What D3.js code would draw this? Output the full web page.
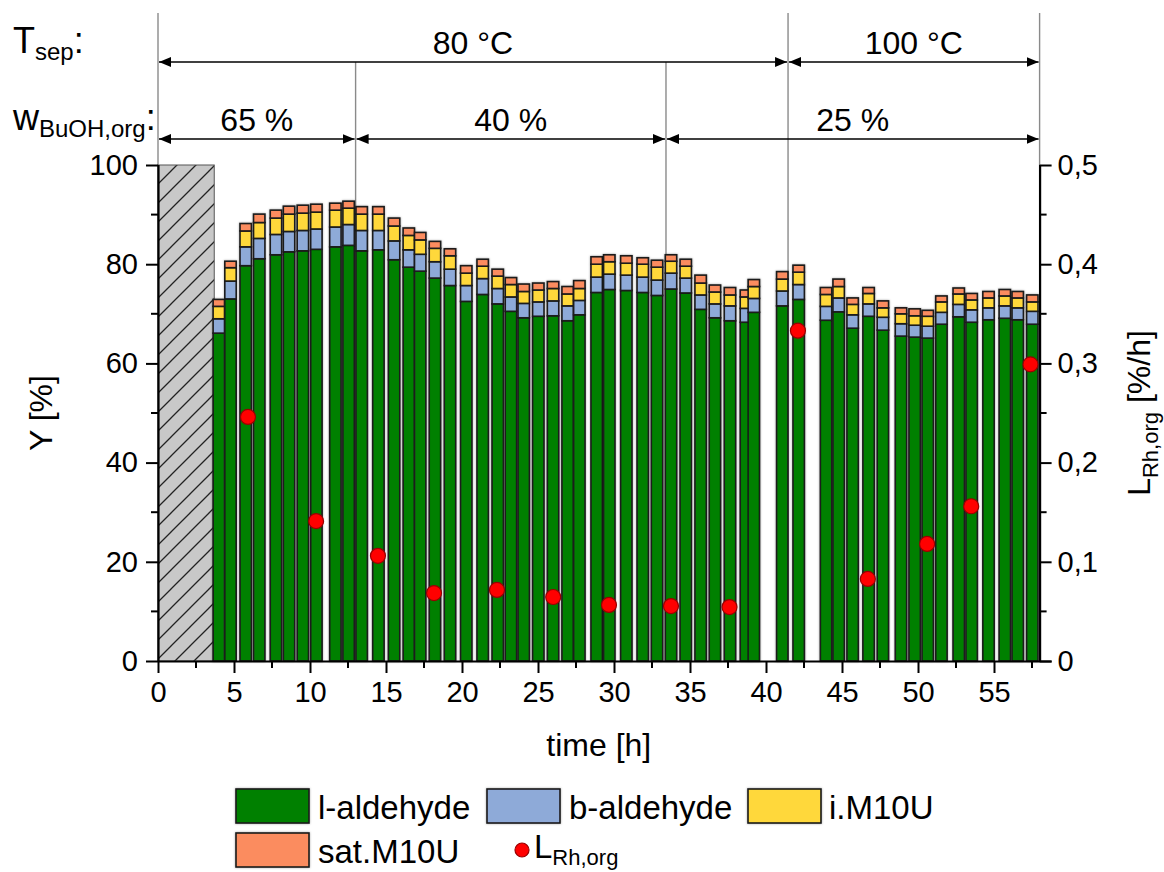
<!DOCTYPE html>
<html>
<head>
<meta charset="utf-8">
<script src="https://cdn.jsdelivr.net/npm/d3@7"></script>
<style>
  html, body { margin: 0; padding: 0; background: #fff; }
  svg { display: block; font-family: "Liberation Sans", Arial, sans-serif; }
</style>
</head>
<body>
<svg id="chart" width="1164" height="872"></svg>
<script>
// ---------------- DATA ----------------
const times = [4.0, 4.77, 5.77, 6.66, 7.76, 8.62, 9.53, 10.42, 11.67, 12.54, 13.4, 14.5, 15.53, 16.5, 17.25, 18.22, 19.21, 20.28, 21.36, 22.35, 23.22, 24.06, 25.02, 25.99, 26.95, 27.72, 28.86, 29.69, 30.81, 31.89, 32.83, 33.75, 34.72, 35.7, 36.64, 37.63, 38.68, 39.2, 41.07, 42.15, 43.95, 44.78, 45.7, 46.75, 47.69, 48.88, 49.78, 50.64, 51.54, 52.68, 53.53, 54.64, 55.71, 56.56, 57.52];
const lAldehyde = [66.1, 73.0, 79.7, 81.1, 81.9, 82.5, 82.7, 83.0, 83.5, 83.8, 82.7, 82.9, 80.9, 79.4, 78.6, 77.2, 75.7, 72.5, 73.9, 72.0, 70.5, 69.2, 69.5, 69.6, 68.6, 69.8, 74.3, 74.9, 74.7, 74.3, 73.7, 75.0, 74.2, 70.9, 69.2, 68.6, 68.3, 70.3, 71.6, 72.9, 68.7, 70.4, 67.1, 69.5, 66.7, 65.5, 65.3, 65.1, 67.9, 69.4, 68.3, 68.8, 69.1, 68.8, 67.9];
const bAldehyde = [2.9, 3.6, 3.8, 4.1, 4.1, 4.1, 4.1, 4.1, 4.0, 4.2, 4.1, 3.9, 3.8, 3.5, 3.4, 3.3, 3.3, 3.2, 3.2, 3.1, 2.9, 2.9, 2.9, 3.0, 3.0, 2.9, 3.1, 3.1, 3.1, 3.1, 3.1, 3.2, 3.0, 2.9, 2.8, 3.0, 2.8, 2.8, 3.0, 3.0, 2.8, 2.8, 2.7, 2.5, 2.6, 2.5, 2.4, 2.4, 2.4, 2.5, 2.5, 2.4, 2.5, 2.4, 2.6];
const iM10U = [2.5, 2.7, 3.2, 3.2, 3.3, 3.5, 3.5, 3.4, 3.4, 3.3, 3.3, 3.3, 3.0, 2.9, 2.9, 2.7, 2.7, 2.5, 2.5, 2.5, 2.5, 2.4, 2.4, 2.5, 2.4, 2.4, 2.6, 2.5, 2.4, 2.6, 2.6, 2.4, 2.4, 2.4, 2.4, 2.2, 2.3, 2.4, 2.4, 2.5, 2.4, 2.3, 2.1, 2.1, 1.9, 2.0, 1.9, 2.0, 2.1, 2.1, 2.0, 2.0, 2.0, 2.0, 1.9];
const satM10U = [1.4, 1.3, 1.5, 1.7, 1.6, 1.6, 1.6, 1.6, 1.4, 1.4, 1.5, 1.5, 1.6, 1.5, 1.5, 1.4, 1.4, 1.5, 1.4, 1.4, 1.4, 1.5, 1.4, 1.4, 1.5, 1.6, 1.5, 1.4, 1.5, 1.3, 1.4, 1.3, 1.4, 1.6, 1.4, 1.5, 1.4, 1.4, 1.5, 1.4, 1.4, 1.5, 1.3, 1.2, 1.4, 1.2, 1.4, 1.2, 1.2, 1.2, 1.3, 1.3, 1.3, 1.3, 1.4];

const lRhTimes = [5.92, 10.4, 14.47, 18.16, 22.3, 26.0, 29.67, 33.75, 37.6, 42.1, 46.7, 50.6, 53.5, 57.4];
const lRhValues = [0.246, 0.141, 0.106, 0.0685, 0.0716, 0.0645, 0.0565, 0.0554, 0.0544, 0.333, 0.0827, 0.118, 0.156, 0.299];

const hatchedStart = 0, hatchedEnd = 3.7, hatchedValue = 100;

const tsepSegments = [{label: "80 °C", from: 0, to: 41.45}, {label: "100 °C", from: 41.45, to: 58}];
const wSegments = [{label: "65 %", from: 0, to: 13.0}, {label: "40 %", from: 13.0, to: 33.42}, {label: "25 %", from: 33.42, to: 58}];

const xTicks = [0, 5, 10, 15, 20, 25, 30, 35, 40, 45, 50, 55];
const yTicks = [0, 20, 40, 60, 80, 100];
const y2Ticks = [0, 0.1, 0.2, 0.3, 0.4, 0.5];
const y2TickLabels = ["0", "0,1", "0,2", "0,3", "0,4", "0,5"];

const seriesNames = ["l-aldehyde", "b-aldehyde", "i.M10U", "sat.M10U"];
const seriesColors = ["#008000", "#8eaad8", "#ffd83a", "#fb8c5e"];

// ---------------- LAYOUT ----------------
const svg = d3.select("#chart");
const L = 158, R = 1039.6, T = 165, B = 661;
const x = d3.scaleLinear().domain([0, 58]).range([L, R]);
const y = d3.scaleLinear().domain([0, 100]).range([B, T]);
const y2 = d3.scaleLinear().domain([0, 0.5]).range([B, T]);
const barW = 0.75;
const FONT = "Liberation Sans, Arial, sans-serif";

// hatch pattern
const defs = svg.append("defs");
const pat = defs.append("pattern").attr("id", "hatch").attr("patternUnits", "userSpaceOnUse")
  .attr("width", 19).attr("height", 19);
pat.append("rect").attr("width", 19).attr("height", 19).attr("fill", "#c8c8c8");
pat.append("path").attr("d", "M-2,21 L21,-2 M-2,2 L2,-2 M17,21 L21,17").attr("stroke", "#222").attr("stroke-width", 1.3);

const glow = defs.append("filter").attr("id", "glow").attr("x", "-20%").attr("y", "-20%").attr("width", "140%").attr("height", "140%");
glow.append("feGaussianBlur").attr("in", "SourceAlpha").attr("stdDeviation", 1.2).attr("result", "b");
glow.append("feFlood").attr("flood-color", "#000").attr("flood-opacity", 0.35);
glow.append("feComposite").attr("in2", "b").attr("operator", "in").attr("result", "s");
const fm = glow.append("feMerge");
fm.append("feMergeNode").attr("in", "s");
fm.append("feMergeNode").attr("in", "SourceGraphic");

// arrow markers
function marker(id, dir) {
  const m = defs.append("marker").attr("id", id).attr("viewBox", "0 0 12 10")
    .attr("markerWidth", 12).attr("markerHeight", 10).attr("markerUnits", "userSpaceOnUse")
    .attr("refX", dir > 0 ? 12 : 0).attr("refY", 5).attr("orient", "0");
  m.append("path").attr("d", dir > 0 ? "M0,0 L12,5 L0,10 Z" : "M12,0 L0,5 L12,10 Z").attr("fill", "#000");
}
marker("arrR", 1);
marker("arrL", -1);

// vertical boundary lines (grey)
const row1 = 62, row2 = 139;
const vlines = [
  {t: 0, top: 13}, {t: 13.0, top: row1}, {t: 33.42, top: row1}, {t: 41.45, top: 13}, {t: 58, top: 13}
];
svg.append("g").selectAll("line").data(vlines).join("line")
  .attr("x1", d => x(d.t)).attr("x2", d => x(d.t))
  .attr("y1", d => d.top).attr("y2", B)
  .attr("stroke", "#8a8a8a").attr("stroke-width", 1.4);

// hatched area
svg.append("rect").attr("x", x(hatchedStart)).attr("y", y(hatchedValue))
  .attr("width", x(hatchedEnd) - x(hatchedStart)).attr("height", y(0) - y(hatchedValue))
  .attr("fill", "url(#hatch)").attr("stroke", "#555").attr("stroke-width", 1);

// stacked bars
const table = times.map((t, i) => ({t, vals: [lAldehyde[i], bAldehyde[i], iM10U[i], satM10U[i]]}));
const barG = svg.append("g").attr("filter", "url(#glow)");
table.forEach(d => {
  let acc = 0;
  const g = barG.append("g");
  d.vals.forEach((v, k) => {
    g.append("rect")
      .attr("x", x(d.t - barW / 2)).attr("width", x(barW) - x(0))
      .attr("y", y(acc + v)).attr("height", y(acc) - y(acc + v))
      .attr("fill", seriesColors[k]).attr("stroke", "#1a1a1a").attr("stroke-width", 1.6);
    acc += v;
  });
});

// axes
const axG = svg.append("g").attr("font-family", FONT);
// bottom axis
const xAxis = d3.axisBottom(x).tickValues(xTicks).tickSize(12).tickPadding(8).tickFormat(d3.format("d"));
const gx = axG.append("g").attr("transform", `translate(0,${B})`).call(xAxis);
gx.selectAll("text").attr("font-size", 29).attr("fill", "#000");
const xMinor = d3.range(2.5, 58, 5);
gx.selectAll(".minor").data(xMinor).join("line").attr("class", "minor")
  .attr("x1", d => x(d)).attr("x2", d => x(d)).attr("y1", 0).attr("y2", 7).attr("stroke", "#000").attr("stroke-width", 2);
// left axis
const yAxis = d3.axisLeft(y).tickValues(yTicks).tickSize(12).tickPadding(8);
const gy = axG.append("g").attr("transform", `translate(${L},0)`).call(yAxis);
gy.selectAll("text").attr("font-size", 29).attr("fill", "#000");
gy.selectAll(".minor").data(d3.range(10, 100, 20)).join("line").attr("class", "minor")
  .attr("x1", 0).attr("x2", -7).attr("y1", d => y(d)).attr("y2", d => y(d)).attr("stroke", "#000").attr("stroke-width", 2);
// right axis
const y2Axis = d3.axisRight(y2).tickValues(y2Ticks).tickSize(12).tickPadding(6).tickFormat((d, i) => y2TickLabels[i]);
const gy2 = axG.append("g").attr("transform", `translate(${R},0)`).call(y2Axis);
gy2.selectAll("text").attr("font-size", 29).attr("fill", "#000");
gy2.selectAll(".minor").data(d3.range(0.05, 0.5, 0.1)).join("line").attr("class", "minor")
  .attr("x1", 0).attr("x2", 7).attr("y1", d => y2(d)).attr("y2", d => y2(d)).attr("stroke", "#000").attr("stroke-width", 2);
[gx, gy, gy2].forEach(g => {
  g.select(".domain").attr("stroke", "#000").attr("stroke-width", 2.2);
  g.selectAll(".tick line").attr("stroke", "#000").attr("stroke-width", 2);
});
gx.select(".domain").attr("d", `M${L},0.5H${R + 12}`);
gy.select(".domain").attr("d", `M0.5,${B}V${T}`);
gy2.select(".domain").attr("d", `M0.5,${B}V${T}`);

// red dots
svg.append("g").selectAll("circle").data(lRhTimes.map((t, i) => ({t, v: lRhValues[i]}))).join("circle")
  .attr("cx", d => x(d.t)).attr("cy", d => y2(d.v)).attr("r", 7.5)
  .attr("fill", "#f00").attr("stroke", "#900").attr("stroke-width", 1.2);

// axis titles
svg.append("text").attr("transform", `translate(52,${(T + B) / 2}) rotate(-90)`)
  .attr("text-anchor", "middle").attr("font-size", 32).text("Y [%]");
svg.append("text").attr("x", x(29)).attr("y", 756).attr("text-anchor", "middle")
  .attr("font-size", 32).text("time [h]");
const rt = svg.append("text").attr("transform", `translate(1150,${(T + B) / 2}) rotate(-90)`)
  .attr("text-anchor", "middle").attr("font-size", 32);
rt.append("tspan").text("L");
rt.append("tspan").attr("font-size", 22).attr("dy", 8).text("Rh,org");
rt.append("tspan").attr("dy", -8).text(" [%/h]");

// top annotations
const ts = svg.append("text").attr("x", 13).attr("y", 53).attr("font-size", 36);
ts.append("tspan").text("T");
ts.append("tspan").attr("font-size", 24).attr("dy", 7).text("sep");
ts.append("tspan").attr("dy", -7).text(":");
const ws = svg.append("text").attr("x", 13).attr("y", 130).attr("font-size", 36);
ws.append("tspan").text("w");
ws.append("tspan").attr("font-size", 24).attr("dy", 7).text("BuOH,org");
ws.append("tspan").attr("dy", -7).text(":");

function arrowRow(segs, yy) {
  const g = svg.append("g");
  segs.forEach(s => {
    g.append("line").attr("x1", x(s.from) + 1).attr("x2", x(s.to) - 1).attr("y1", yy).attr("y2", yy)
      .attr("stroke", "#000").attr("stroke-width", 1.6)
      .attr("marker-start", "url(#arrL)").attr("marker-end", "url(#arrR)");
    g.append("text").attr("x", (x(s.from) + x(s.to)) / 2).attr("y", yy - 8)
      .attr("text-anchor", "middle").attr("font-size", 32).text(s.label);
  });
}
arrowRow(tsepSegments, row1);
arrowRow(wSegments, row2);

// legend
const legItems = [
  {name: seriesNames[0], type: "rect", color: seriesColors[0], sx: 236, sy: 789, tx: 318},
  {name: seriesNames[1], type: "rect", color: seriesColors[1], sx: 487, sy: 789, tx: 569},
  {name: seriesNames[2], type: "rect", color: seriesColors[2], sx: 748, sy: 789, tx: 829},
  {name: seriesNames[3], type: "rect", color: seriesColors[3], sx: 236, sy: 833, tx: 318}
];
const lg = svg.append("g");
legItems.forEach(it => {
  lg.append("rect").attr("x", it.sx).attr("y", it.sy).attr("width", 73).attr("height", 34)
    .attr("fill", it.color).attr("stroke", "#1a1a1a").attr("stroke-width", 1.6).attr("filter", "url(#glow)");
  lg.append("text").attr("x", it.tx).attr("y", it.sy + 30).attr("font-size", 33).text(it.name);
});
lg.append("circle").attr("cx", 522).attr("cy", 850).attr("r", 7).attr("fill", "#f00").attr("stroke", "#900").attr("stroke-width", 1.2);
const lt = lg.append("text").attr("x", 534).attr("y", 858).attr("font-size", 33);
lt.append("tspan").text("L");
lt.append("tspan").attr("font-size", 22).attr("dy", 7).text("Rh,org");
</script>
</body>
</html>
